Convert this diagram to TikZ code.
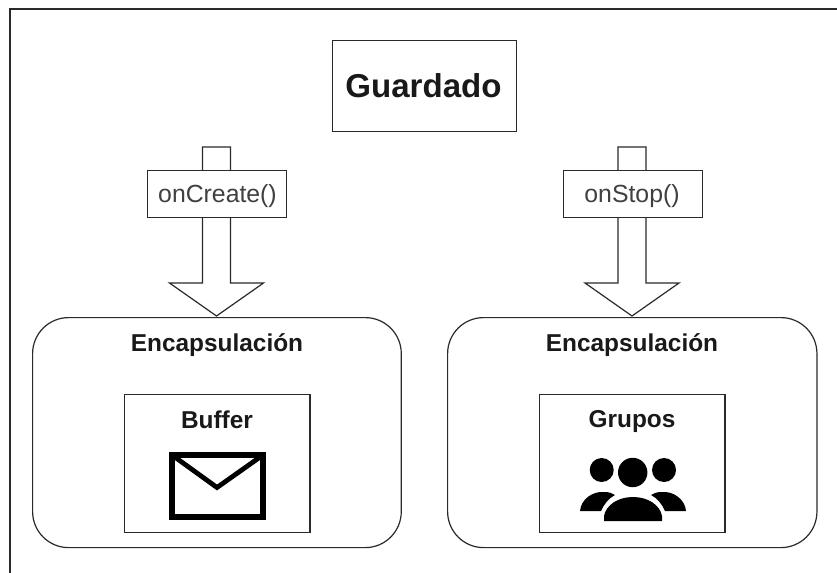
\documentclass[tikz,border=0pt]{standalone}
\usepackage{fontspec}
\setmainfont{Liberation Sans}
\usetikzlibrary{calc}
\definecolor{ln}{HTML}{2A2A2A}
\tikzset{
  x=0.75pt,y=-0.75pt,
  box/.style={draw=ln,line width=0.9pt,fill=white,inner sep=0pt,anchor=north west,align=center},
  rbox/.style={box,rounded corners=27pt},
  hollow/.style={draw=ln,line width=0.9pt,fill=white,line join=miter},
  lbl/.style={font=\fontsize{18.6}{20}\selectfont,text=black!75,inner sep=0pt,anchor=base},
  ttl/.style={font=\fontsize{18.3}{20}\selectfont\bfseries,inner sep=0pt,anchor=base,text=black!90},
}
\newcommand{\bigarrow}[2]{%
  \draw[hollow] ($(#1)+(-14,0)$) -- ($(#1)+(14,0)$) -- ($(#2)+(14,-33)$) -- ($(#2)+(47,-33)$)
    -- (#2) -- ($(#2)+(-47,-33)$) -- ($(#2)+(-14,-33)$) -- cycle;}
\begin{document}
\begin{tikzpicture}
\useasboundingbox (0,0) rectangle (837,573);
\fill[white] (0,0) rectangle (837,573);
\coordinate (frameTL) at (10,9);
\coordinate (frameTR) at (837,9);
\coordinate (frameBL) at (10,573);
\draw[ln,line width=1pt] (frameBL) -- (frameTL) -- (frameTR);
% rounded containers
\node[rbox,minimum width=276.5pt,minimum height=172.5pt] (encL) at (32,317) {};
\node[rbox,minimum width=277pt,minimum height=172.5pt] (encR) at (447,317) {};
% main box
\node[box,minimum width=138pt,minimum height=68pt] (guard) at (332,40) {};
\node[ttl,font=\fontsize{24.8}{26}\selectfont\bfseries] (guardt) at (423.5,97.5) {Guardado};
% arrows
\coordinate (srcL) at (216.5,147);
\coordinate (tipL) at (216.5,316);
\coordinate (srcR) at (632,147);
\coordinate (tipR) at (632,316);
\bigarrow{srcL}{tipL}
\bigarrow{srcR}{tipR}
\node[box,minimum width=104pt,minimum height=35pt] (create) at (147,170) {};
\node[box,minimum width=104.5pt,minimum height=35pt] (stop) at (562.5,170) {};
\node[lbl] (createt) at (217.5,203) {onCreate()};
\node[lbl] (stopt) at (632,203) {onStop()};
% titles
\node[ttl] (encLt) at (217,351) {Encapsulación};
\node[ttl] (encRt) at (632,351) {Encapsulación};
% inner boxes
\node[box,minimum width=139pt,minimum height=103.5pt] (buf) at (124,394) {};
\node[box,minimum width=139pt,minimum height=103.5pt] (grp) at (539,394) {};
\node[ttl] (buft) at (217,428) {Buffer};
\node[ttl] (grpt) at (632,427.5) {Grupos};
% envelope icon
\draw[black,line width=4.4pt,line join=miter] (172,455) rectangle (263,517);
\draw[black,line width=3.6pt,line join=miter] (172,455) -- (217,487.5) -- (263,455);
% group icon
\fill[black] (601.7,470) circle[radius=12];
\fill[black] (632.7,472.5) circle[radius=14.7];
\fill[black] (664,470) circle[radius=12];
\fill[black] (580,511) .. controls (581,499) and (593,491) .. (604,492) .. controls (609,492) and (612,493) .. (615,495)
  .. controls (609,498) and (604,504) .. (601,511) -- cycle;
\fill[black] (686,511) .. controls (685,499) and (673,491) .. (662,492) .. controls (657,492) and (654,493) .. (651,495)
  .. controls (657,498) and (662,504) .. (665,511) -- cycle;
\fill[black] (604,521) -- (604,516) .. controls (606,505) and (618,497) .. (633,497) .. controls (648,497) and (660,505) .. (662,516) -- (662,521) -- cycle;
\end{tikzpicture}
\end{document}
